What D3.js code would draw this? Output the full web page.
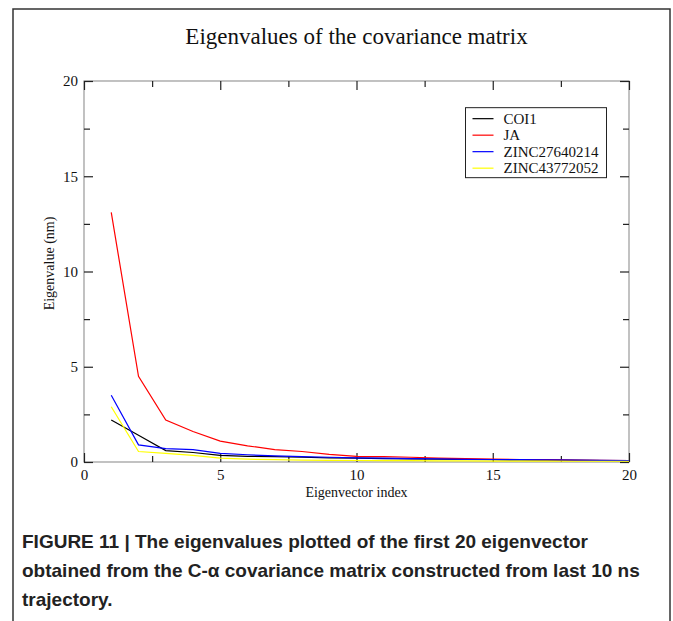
<!DOCTYPE html>
<html lang="en">
  <head>
    <meta charset="UTF-8" />
    <title>Eigenvalues of the covariance matrix</title>
    <script src="https://d3js.org/d3.v7.min.js"></script>
    <style>
      body {
        margin: 0;
        background: #fff;
      }
      svg {
        display: block;
      }
    </style>
  </head>
  <body>
    <div id="chartContainer"></div>

    <script>
      // eigenvector index 1..20
      const indices = d3.range(1, 21);

      const seriesNames = ['COI1', 'JA', 'ZINC27640214', 'ZINC43772052'];
      const seriesColors = ['#000000', '#ff0000', '#0000ff', '#ffff00'];

      const coi1 = [2.2, 1.4, 0.6, 0.5, 0.35, 0.3, 0.28, 0.25, 0.22, 0.2,
        0.18, 0.16, 0.15, 0.13, 0.12, 0.11, 0.1, 0.09, 0.08, 0.07];
      const ja = [13.1, 4.5, 2.2, 1.6, 1.1, 0.85, 0.65, 0.55, 0.4, 0.3,
        0.28, 0.25, 0.2, 0.18, 0.15, 0.13, 0.12, 0.1, 0.09, 0.08];
      const zinc276 = [3.5, 0.9, 0.7, 0.65, 0.45, 0.38, 0.32, 0.28, 0.25, 0.22,
        0.2, 0.18, 0.16, 0.14, 0.13, 0.12, 0.11, 0.1, 0.09, 0.08];
      const zinc437 = [2.9, 0.55, 0.45, 0.35, 0.2, 0.15, 0.12, 0.1, 0.09, 0.08,
        0.07, 0.07, 0.06, 0.06, 0.05, 0.05, 0.05, 0.04, 0.04, 0.04];

      const seriesValues = [coi1, ja, zinc276, zinc437];

      const xMajorTicks = [0, 5, 10, 15, 20];
      const xMinorTicks = [2.5, 7.5, 12.5, 17.5];
      const yMajorTicks = [0, 5, 10, 15, 20];
      const yMinorTicks = [2.5, 7.5, 12.5, 17.5];

      const captionLines = [
        'FIGURE 11 | The eigenvalues plotted of the first 20 eigenvector',
        'obtained from the C-\u03b1 covariance matrix constructed from last 10 ns',
        'trajectory.',
      ];

      const W = 673;
      const H = 621;
      const margin = { top: 81, right: 44, bottom: 159, left: 84 };
      const width = W - margin.left - margin.right;
      const height = H - margin.top - margin.bottom;

      const svg = d3
        .select('#chartContainer')
        .append('svg')
        .attr('width', W)
        .attr('height', H);

      // outer figure frame
      svg
        .append('rect')
        .attr('x', 13)
        .attr('y', 9)
        .attr('width', 657)
        .attr('height', 640)
        .attr('fill', 'none')
        .attr('stroke', '#333')
        .attr('stroke-width', 1.5);

      const g = svg
        .append('g')
        .attr('transform', `translate(${margin.left},${margin.top})`);

      const x = d3.scaleLinear().domain([0, 20]).range([0, width]);
      const y = d3.scaleLinear().domain([0, 20]).range([height, 0]);

      const serif = 'Liberation Serif, Times New Roman, serif';

      // plot frame
      g.append('rect')
        .attr('width', width)
        .attr('height', height)
        .attr('fill', 'none')
        .attr('stroke', '#999')
        .attr('stroke-width', 1.2);

      // inward ticks on all four sides
      function tickAxis(axisFn, scale, major, minor, transform) {
        const ax = g.append('g').attr('transform', transform);
        ax.call(axisFn(scale).tickValues(major).tickSizeInner(-9).tickSizeOuter(0).tickFormat(''));
        ax.call(s => s.select('.domain').remove());
        const mn = g.append('g').attr('transform', transform);
        mn.call(axisFn(scale).tickValues(minor).tickSizeInner(-6).tickSizeOuter(0).tickFormat(''));
        mn.call(s => s.select('.domain').remove());
        g.selectAll('.tick line').attr('stroke', '#222').attr('stroke-width', 1.2);
        return ax;
      }
      tickAxis(d3.axisBottom, x, xMajorTicks, xMinorTicks, `translate(0,${height})`);
      tickAxis(d3.axisTop, x, xMajorTicks, xMinorTicks, 'translate(0,0)');
      tickAxis(d3.axisLeft, y, yMajorTicks, yMinorTicks, 'translate(0,0)');
      tickAxis(d3.axisRight, y, yMajorTicks, yMinorTicks, `translate(${width},0)`);

      // tick labels
      const xLab = g
        .append('g')
        .attr('transform', `translate(0,${height})`)
        .call(d3.axisBottom(x).tickValues(xMajorTicks).tickSize(0).tickPadding(7));
      xLab.select('.domain').remove();
      xLab.selectAll('text')
        .attr('font-family', serif)
        .attr('font-size', 15)
        .attr('fill', '#111');

      const yLab = g
        .append('g')
        .call(d3.axisLeft(y).tickValues(yMajorTicks).tickSize(0).tickPadding(6));
      yLab.select('.domain').remove();
      yLab.selectAll('text')
        .attr('font-family', serif)
        .attr('font-size', 15)
        .attr('fill', '#111');

      // lines
      const line = d3
        .line()
        .x((d, i) => x(indices[i]))
        .y(d => y(d));

      seriesValues.forEach((vals, k) => {
        g.append('path')
          .datum(vals)
          .attr('fill', 'none')
          .attr('stroke', seriesColors[k])
          .attr('stroke-width', 1.2)
          .attr('d', line);
      });

      // title
      svg
        .append('text')
        .attr('x', margin.left + width / 2)
        .attr('y', 44)
        .attr('text-anchor', 'middle')
        .attr('font-family', serif)
        .attr('font-size', 23)
        .attr('fill', '#111')
        .text('Eigenvalues of the covariance matrix');

      // axis labels
      svg
        .append('text')
        .attr('x', margin.left + width / 2)
        .attr('y', margin.top + height + 35)
        .attr('text-anchor', 'middle')
        .attr('font-family', serif)
        .attr('font-size', 14)
        .attr('fill', '#111')
        .text('Eigenvector index');

      svg
        .append('text')
        .attr('transform', `translate(54,${margin.top + height / 2 - 8}) rotate(-90)`)
        .attr('text-anchor', 'middle')
        .attr('font-family', serif)
        .attr('font-size', 14)
        .attr('fill', '#111')
        .text('Eigenvalue (nm)');

      // legend
      const legend = g.append('g').attr('transform', `translate(${x(14.0)},${y(18.6)})`);
      legend
        .append('rect')
        .attr('width', 141)
        .attr('height', 70)
        .attr('fill', '#fff')
        .attr('stroke', '#222')
        .attr('stroke-width', 1);
      seriesNames.forEach((name, k) => {
        const ly = 11 + k * 16.5;
        legend
          .append('line')
          .attr('x1', 7)
          .attr('x2', 28)
          .attr('y1', ly)
          .attr('y2', ly)
          .attr('stroke', seriesColors[k])
          .attr('stroke-width', 1.2);
        legend
          .append('text')
          .attr('x', 38)
          .attr('y', ly + 5)
          .attr('font-family', serif)
          .attr('font-size', 15)
          .attr('fill', '#111')
          .text(name);
      });

      // caption
      svg
        .append('g')
        .selectAll('text')
        .data(captionLines)
        .enter()
        .append('text')
        .attr('x', 22)
        .attr('y', (d, i) => 548 + i * 29)
        .attr('font-family', 'Liberation Sans, Arial, sans-serif')
        .attr('font-weight', 'bold')
        .attr('font-size', 19)
        .attr('fill', '#222')
        .text(d => d);
    </script>
  </body>
</html>
